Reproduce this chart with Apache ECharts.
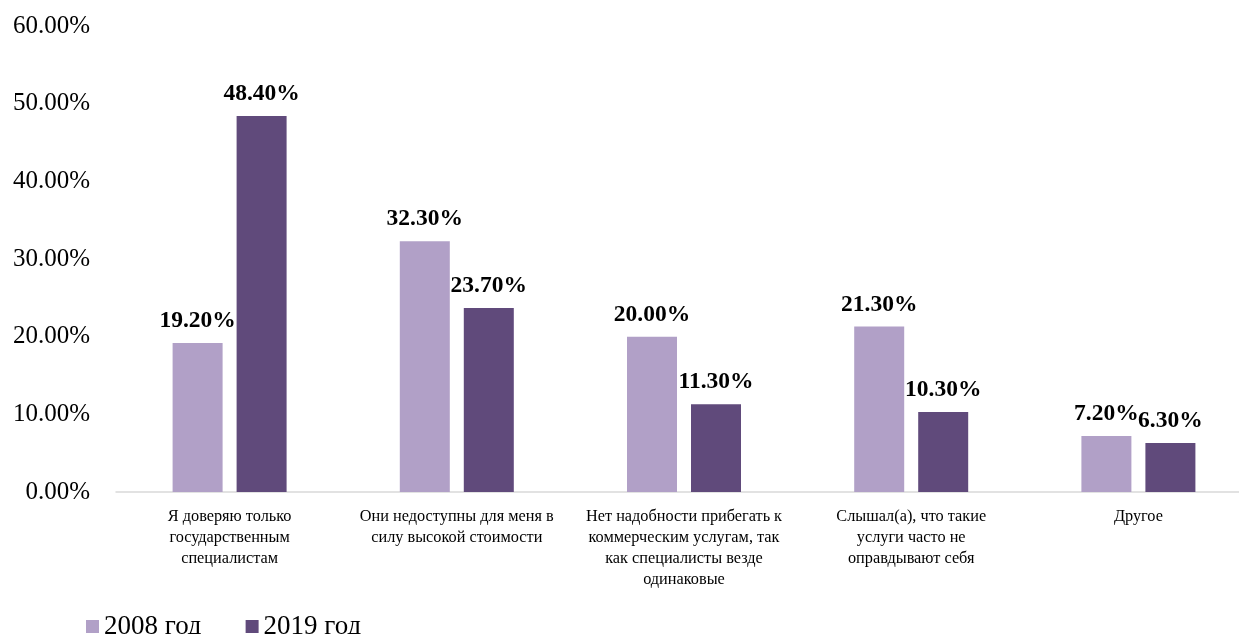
<!DOCTYPE html>
<html>
<head>
<meta charset="utf-8">
<script src="https://cdn.jsdelivr.net/npm/echarts@6/dist/echarts.min.js"></script>
<style>html,body{margin:0;padding:0;background:#fff;overflow:hidden;}#c{width:1252px;height:634px;}</style>
</head>
<body>
<div id="c"></div>
<script>
const categories = [
  "Я доверяю только\nгосударственным\nспециалистам",
  "Они недоступны для меня в\nсилу высокой стоимости",
  "Нет надобности прибегать к\nкоммерческим услугам, так\nкак специалисты везде\nодинаковые",
  "Слышал(а), что такие\nуслуги часто не\nоправдывают себя",
  "Другое"
];
const seriesNames = ["2008 год", "2019 год"];
const values2008 = [19.2, 32.3, 20.0, 21.3, 7.2];
const values2019 = [48.4, 23.7, 11.3, 10.3, 6.3];
const yTicks = { min: 0, max: 60, interval: 10 };

const FONT = '"Liberation Serif", "Times New Roman", serif';
const colors = ['#B1A0C7', '#604A7B'];

const chart = echarts.init(document.getElementById('c'), null, { renderer: 'canvas' });
const labelOpt = {
  show: true, position: 'top', distance: 10,
  fontFamily: FONT, fontSize: 23.5, fontWeight: 'bold', color: '#000',
  formatter: p => p.value.toFixed(2) + '%'
};
chart.setOption({
  animation: false,
  textStyle: { fontFamily: FONT },
  grid: { left: 116, top: 26, right: 0, bottom: 142, containLabel: false },
  legend: {
    left: 81, top: 608, itemWidth: 13, itemHeight: 13, itemGap: 44,
    icon: 'rect',
    textStyle: { fontFamily: FONT, fontSize: 27, color: '#000' },
    data: seriesNames
  },
  xAxis: {
    type: 'category', data: categories,
    axisLine: { lineStyle: { color: '#D9D9D9', width: 1.5 } },
    axisTick: { show: false },
    axisLabel: { interval: 0, margin: 14, fontFamily: FONT, fontSize: 16.3, lineHeight: 21, color: '#000', align: 'center' }
  },
  yAxis: {
    type: 'value', min: yTicks.min, max: yTicks.max, interval: yTicks.interval,
    splitLine: { show: false },
    axisLine: { show: false }, axisTick: { show: false },
    axisLabel: { margin: 26, fontFamily: FONT, fontSize: 25, color: '#000', formatter: v => v.toFixed(2) + '%' }
  },
  series: [
    { name: seriesNames[0], type: 'bar', data: values2008, barWidth: 50, barGap: '28%',
      itemStyle: { color: colors[0] }, label: labelOpt },
    { name: seriesNames[1], type: 'bar', data: values2019, barWidth: 50, barGap: '28%',
      itemStyle: { color: colors[1] }, label: labelOpt }
  ]
});
</script>
</body>
</html>
